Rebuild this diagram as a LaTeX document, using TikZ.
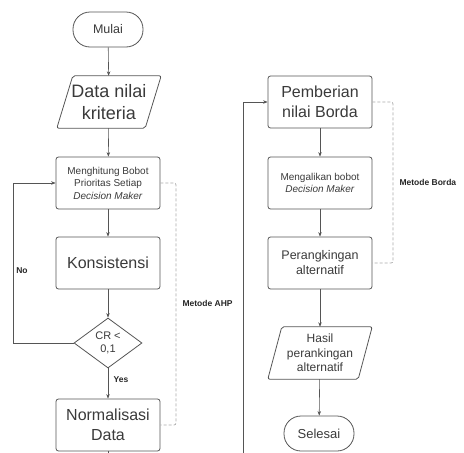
\documentclass[tikz,border=0pt]{standalone}
\usepackage{fontspec}
\setmainfont{Liberation Sans}
\usetikzlibrary{shapes.geometric,arrows.meta,calc}
\definecolor{ln}{HTML}{555555}
\definecolor{tx}{HTML}{3A3A3A}
\definecolor{dsh}{HTML}{AAAAAA}
\begin{document}
\begin{tikzpicture}[x=1pt,y=-1pt,
  every node/.style={text=tx},
  box/.style={draw=ln, line width=0.8pt, rounded corners=2.5pt, minimum width=104pt, minimum height=52pt, inner sep=0pt, align=center},
  term/.style={draw=ln, line width=0.8pt, rounded corners=17pt, minimum width=70pt, minimum height=35pt, inner sep=0pt, align=center},
  para/.style={minimum width=88pt, minimum height=52pt, inner sep=0pt, align=center},
  pshape/.style={draw=ln, line width=0.8pt, rounded corners=2pt},
  dec/.style={diamond, draw=ln, line width=0.8pt, minimum width=68pt, minimum height=50pt, inner sep=0pt, aspect=1.36, align=center},
  arr/.style={draw=ln, line width=0.6pt, -{Stealth[length=4.5pt,width=3.5pt]}},
  dline/.style={draw=dsh, line width=0.7pt, dash pattern=on 3pt off 2pt, rounded corners=2pt},
  lbl/.style={font=\fontsize{8.5}{10}\selectfont\bfseries, text=black!85}
]
\useasboundingbox (0,0) rectangle (464,453);
\clip (0,0) rectangle (464,453);
% left column
\node[term, font=\fontsize{12.5}{15}\selectfont] (m) at (108,29.5) {Mulai};
\node[para, font=\fontsize{18}{21.5}\selectfont] (d) at (109,102) {Data nilai\\kriteria};
\draw[pshape] ($(d.north west)+(8,0)$) -- ($(d.north east)+(8,0)$) -- ($(d.south east)+(-8,0)$) -- ($(d.south west)+(-8,0)$) -- cycle;
\node[box, font=\fontsize{10}{12.5}\selectfont] (h) at (108,183) {Menghitung Bobot\\Prioritas Setiap\\\textit{Decision Maker}};
\node[box, font=\fontsize{16}{19}\selectfont] (k) at (108,263) {Konsistensi};
\node[dec, font=\fontsize{11}{13.5}\selectfont] (c) at (108,343) {CR <\\0,1};
\node[box, font=\fontsize{16}{19.5}\selectfont] (n) at (108,425) {Normalisasi\\Data};
% right column
\node[box, font=\fontsize{16}{19.5}\selectfont] (p) at (320,102) {Pemberian\\nilai Borda};
\node[box, font=\fontsize{10}{12.5}\selectfont] (g) at (320,183) {Mengalikan bobot\\\textit{Decision Maker}};
\node[box, font=\fontsize{12.5}{15}\selectfont] (r) at (320,263) {Perangkingan\\alternatif};
\node[para, font=\fontsize{12}{14.5}\selectfont, minimum width=90pt] (hs) at (320,353) {Hasil\\perankingan\\alternatif};
\draw[pshape] ($(hs.north west)+(7,0)$) -- ($(hs.north east)+(7,0)$) -- ($(hs.south east)+(-7,0)$) -- ($(hs.south west)+(-7,0)$) -- cycle;
\node[term, font=\fontsize{13}{15}\selectfont] (s) at (319,433.5) {Selesai};
% connectors
\draw[arr] (m) -- (d);
\draw[arr] (d) -- (h);
\draw[arr] (h) -- (k);
\draw[arr] (k) -- (c);
\draw[arr] (c) -- (n);
\coordinate (lp) at (13,343);
\draw[arr] (c.west) -- (lp) |- (h.west);
\coordinate (bt) at (108,470);
\coordinate (rl) at (243,470);
\draw[arr] (n.south) -- (bt) -- (rl) |- (p.west);
\draw[arr] (p) -- (g);
\draw[arr] (g) -- (r);
\draw[arr] (r) -- (hs);
\draw[arr] (hs) -- (s);
% dashed groupings
\coordinate (ahp) at (176,183);
\draw[dline] (h.east) -- (ahp) |- (n.east);
\coordinate (bd) at (393,102);
\draw[dline] (p.east) -- (bd) |- (r.east);
% labels
\node[lbl] (no) at (22,271) {No};
\node[lbl] (yes) at (121,380) {Yes};
\node[lbl, anchor=west] (ma) at (179,303) {Metode AHP};
\node[lbl, anchor=west] (mb) at (396,182) {Metode Borda};
\end{tikzpicture}
\end{document}
